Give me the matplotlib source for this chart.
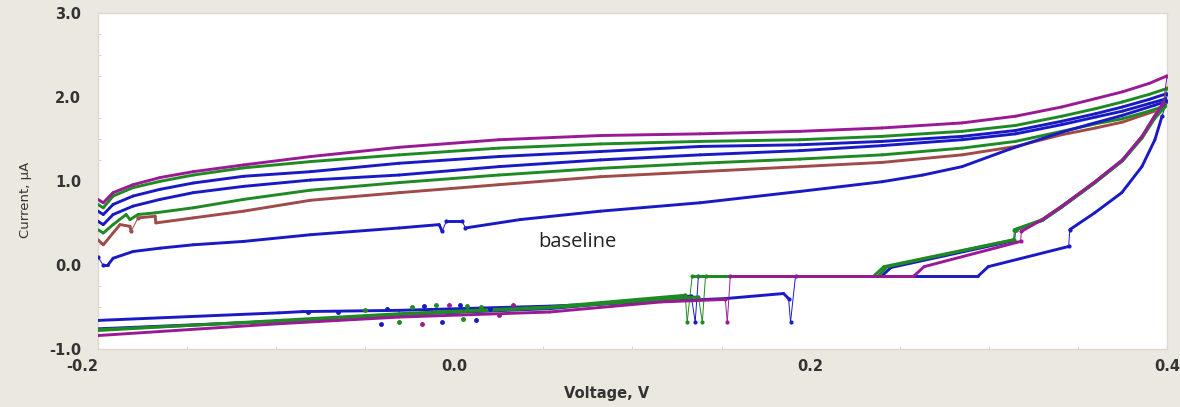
import numpy as np
import matplotlib
matplotlib.use("Agg")
import matplotlib.pyplot as plt
from matplotlib.collections import LineCollection

# forward (anodic) sweeps
up_v = [-0.200, -0.197, -0.1915, -0.1803, -0.1651, -0.1465, -0.1183, -0.0806, -0.031, 0.025, 0.082,
        0.138, 0.194, 0.240, 0.285, 0.315, 0.341, 0.360, 0.375, 0.390, 0.400]
purple_up = [0.78, 0.74, 0.86, 0.955, 1.04, 1.11, 1.19, 1.29, 1.40, 1.49, 1.54,
             1.56, 1.59, 1.63, 1.69, 1.77, 1.88, 1.98, 2.06, 2.16, 2.25]
green_up = [0.72, 0.68, 0.82, 0.92, 0.995, 1.07, 1.155, 1.23, 1.31, 1.39, 1.44,
            1.47, 1.49, 1.53, 1.59, 1.66, 1.77, 1.86, 1.94, 2.03, 2.10]
blue_up = [0.64, 0.60, 0.72, 0.82, 0.90, 0.975, 1.055, 1.11, 1.21, 1.29, 1.35,
           1.41, 1.43, 1.47, 1.53, 1.60, 1.71, 1.80, 1.88, 1.97, 2.04]
blue2_up = [0.52, 0.48, 0.60, 0.70, 0.78, 0.86, 0.935, 1.01, 1.07, 1.17, 1.25,
            1.31, 1.36, 1.42, 1.49, 1.56, 1.67, 1.76, 1.83, 1.92, 1.98]

green2_v = [-0.200, -0.197, -0.1915, -0.1842, -0.1820, -0.1775, -0.1679, -0.1465, -0.1183, -0.0806, -0.031,
            0.025, 0.082, 0.138, 0.194, 0.240, 0.285, 0.315, 0.341, 0.360, 0.375, 0.390, 0.400]
green2_up = [0.42, 0.38, 0.48, 0.60, 0.54, 0.60, 0.62, 0.68, 0.78, 0.89, 0.98,
             1.07, 1.15, 1.21, 1.26, 1.31, 1.39, 1.47, 1.59, 1.68, 1.74, 1.83, 1.90]

brown_v = [-0.200, -0.197, -0.1876, -0.1820, -0.1814, -0.1775, -0.1679, -0.1675, -0.1465, -0.1183, -0.0806,
           -0.031, 0.025, 0.082, 0.138, 0.194, 0.240, 0.285, 0.315, 0.341, 0.360, 0.375, 0.393]
brown_up = [0.30, 0.24, 0.48, 0.46, 0.40, 0.56, 0.58, 0.50, 0.56, 0.64, 0.77,
            0.86, 0.955, 1.05, 1.11, 1.17, 1.22, 1.31, 1.41, 1.55, 1.63, 1.70, 1.83]

base_v = [-0.200, -0.1972, -0.1944, -0.1915, -0.1803, -0.1651, -0.1465, -0.1183, -0.0806, -0.031,
          -0.0085, -0.0068, -0.0045, 0.0045, 0.0062, 0.037, 0.082, 0.138, 0.194, 0.240, 0.263,
          0.285, 0.312, 0.341, 0.356, 0.375, 0.393, 0.400]
base_up = [0.10, 0.00, 0.00, 0.08, 0.16, 0.20, 0.24, 0.28, 0.36, 0.44,
           0.48, 0.40, 0.52, 0.52, 0.44, 0.54, 0.64, 0.74, 0.875, 0.99, 1.07,
           1.17, 1.38, 1.58, 1.67, 1.78, 1.90, 1.95]

# reverse (cathodic) sweeps
purple_dn_v = [0.400, 0.398, 0.393, 0.386, 0.375, 0.359, 0.341, 0.330, 0.3183, 0.3178, 0.2637, 0.258,
               0.1549, 0.1532, 0.1521, 0.116, 0.0535, -0.031, -0.099, -0.200]
purple_dn = [2.25, 1.93, 1.77, 1.53, 1.25, 0.98, 0.70, 0.54, 0.40, 0.28, -0.02, -0.13,
             -0.13, -0.68, -0.41, -0.44, -0.56, -0.62, -0.70, -0.84]

green_dn_v = [0.400, 0.398, 0.393, 0.386, 0.375, 0.359, 0.341, 0.330, 0.3144, 0.3138, 0.2411, 0.2355,
              0.1335, 0.1307, 0.1296, 0.0535, -0.031, -0.099, -0.200]
green_dn = [2.10, 1.93, 1.77, 1.53, 1.25, 0.98, 0.70, 0.54, 0.42, 0.30, -0.02, -0.13,
            -0.13, -0.68, -0.36, -0.50, -0.58, -0.66, -0.78]

blue_dn_v = [0.400, 0.398, 0.393, 0.386, 0.375, 0.359, 0.341, 0.330, 0.3150, 0.3144, 0.2451, 0.2400,
             0.1370, 0.1352, 0.1330, 0.0535, -0.031, -0.099, -0.200]
blue_dn = [2.04, 1.92, 1.76, 1.52, 1.24, 0.97, 0.69, 0.53, 0.42, 0.29, -0.03, -0.13,
           -0.13, -0.68, -0.37, -0.52, -0.59, -0.67, -0.76]

green2_dn_v = [0.400, 0.398, 0.393, 0.386, 0.375, 0.359, 0.341, 0.330, 0.3150, 0.3144, 0.2430, 0.2380,
               0.1410, 0.1392, 0.1370, 0.0535, -0.031, -0.099, -0.200]
green2_dn = [1.90, 1.86, 1.74, 1.51, 1.24, 0.97, 0.69, 0.53, 0.42, 0.30, -0.02, -0.13,
             -0.13, -0.68, -0.38, -0.51, -0.59, -0.67, -0.77]

base_dn_v = [0.400, 0.3972, 0.3932, 0.3859, 0.3746, 0.3594, 0.3454, 0.3448, 0.2997, 0.2941, 0.1915, 0.1887,
             0.1876, 0.1848, 0.1521, 0.130, 0.0535, -0.031, -0.085, -0.0986, -0.200]
base_dn = [1.95, 1.77, 1.49, 1.17, 0.86, 0.62, 0.42, 0.22, -0.02, -0.13, -0.13, -0.68,
           -0.40, -0.34, -0.40, -0.42, -0.49, -0.54, -0.555, -0.57, -0.66]

# scattered noisy points around 0 V on the reverse sweeps
noise_blue_v = [-0.082, -0.065, -0.038, -0.017, 0.003, 0.020, -0.041, -0.007, 0.012]
noise_blue_i = [-0.56, -0.56, -0.52, -0.49, -0.48, -0.52, -0.70, -0.68, -0.66]
noise_green_v = [-0.050, -0.024, -0.010, 0.007, 0.015, -0.031, 0.005]
noise_green_i = [-0.54, -0.50, -0.48, -0.49, -0.50, -0.68, -0.64]
noise_purple_v = [-0.003, 0.033, -0.018, 0.025]
noise_purple_i = [-0.48, -0.48, -0.70, -0.60]

PURPLE = "#9a1a96"
GREEN = "#1f8a24"
BLUE = "#1a1ac4"
BROWN = "#a14a4a"


def trace(ax, v, i, color):
    v = np.asarray(v)
    i = np.asarray(i)
    pts = np.column_stack([v, i])
    segs = np.stack([pts[:-1], pts[1:]], axis=1)
    thin = (np.abs(np.diff(v)) < 0.004) & (np.abs(np.diff(i)) > 0.08)
    widths = np.where(thin, 0.7, 2.1)
    ax.add_collection(LineCollection(segs, colors=color, linewidths=widths, capstyle="round", zorder=3))
    # dots only where the trace jumps
    idx = np.unique(np.concatenate([np.where(thin)[0], np.where(thin)[0] + 1]))
    if len(idx):
        ax.plot(v[idx], i[idx], ".", color=color, ms=4, zorder=3)


fig = plt.figure(figsize=(11.8, 4.07), dpi=100, facecolor="#ebe8df")
ax = fig.add_axes([0.083, 0.1425, 0.906, 0.826])
ax.set_facecolor("white")

trace(ax, brown_v, brown_up, BROWN)
trace(ax, up_v, blue2_up, BLUE)
trace(ax, up_v, blue_up, BLUE)
trace(ax, green2_v, green2_up, GREEN)
trace(ax, up_v, green_up, GREEN)
trace(ax, up_v, purple_up, PURPLE)
trace(ax, base_v, base_up, BLUE)

trace(ax, base_dn_v, base_dn, BLUE)
trace(ax, blue_dn_v, blue_dn, BLUE)
trace(ax, green2_dn_v, green2_dn, GREEN)
trace(ax, green_dn_v, green_dn, GREEN)
trace(ax, purple_dn_v, purple_dn, PURPLE)

ax.plot(noise_blue_v, noise_blue_i, ".", color=BLUE, ms=5, zorder=4)
ax.plot(noise_green_v, noise_green_i, ".", color=GREEN, ms=5, zorder=4)
ax.plot(noise_purple_v, noise_purple_i, ".", color=PURPLE, ms=5, zorder=4)

ax.text(0.069, 0.27, "baseline", ha="center", va="center", fontsize=14.5, color="#222222",
        family="Open Sans")

ax.set_xlim(-0.2, 0.4)
ax.set_ylim(-1.0, 3.0)
ax.set_xticks([-0.2, 0.0, 0.2, 0.4])
ax.set_xticklabels(["-0.2", "0.0", "0.2", "0.4"])
ax.set_yticks([-1.0, 0.0, 1.0, 2.0, 3.0])
ax.set_yticklabels(["-1.0", "0.0", "1.0", "2.0", "3.0"])
ax.set_xticks(np.arange(-0.15, 0.4, 0.05), minor=True)
ax.set_yticks(np.arange(-0.75, 3.0, 0.25), minor=True)
ax.tick_params(which="major", length=0, labelsize=10.5, colors="#333333")
ax.tick_params(axis="y", which="major", pad=12)
ax.tick_params(axis="x", which="major", pad=7)
ax.tick_params(which="minor", length=2, color="#d0ccc0", direction="in")
for lbl in ax.get_xticklabels() + ax.get_yticklabels():
    lbl.set_family("DejaVu Sans")
    lbl.set_fontweight("bold")
ax.get_xticklabels()[0].set_horizontalalignment("right")

for s in ax.spines.values():
    s.set_color("#dcd8cc")
    s.set_linewidth(1.0)

ax.set_xlabel("Voltage, V", fontsize=10.5, fontweight="bold", color="#333333", family="DejaVu Sans")
ax.xaxis.set_label_coords(0.476, -0.11)
ax.set_ylabel("Current, µA", fontsize=9.5, color="#333333",
              family=["Liberation Sans Narrow", "DejaVu Sans"])
ax.yaxis.set_label_coords(-0.062, 0.443)

fig.savefig("out.png", dpi=100, facecolor=fig.get_facecolor())
